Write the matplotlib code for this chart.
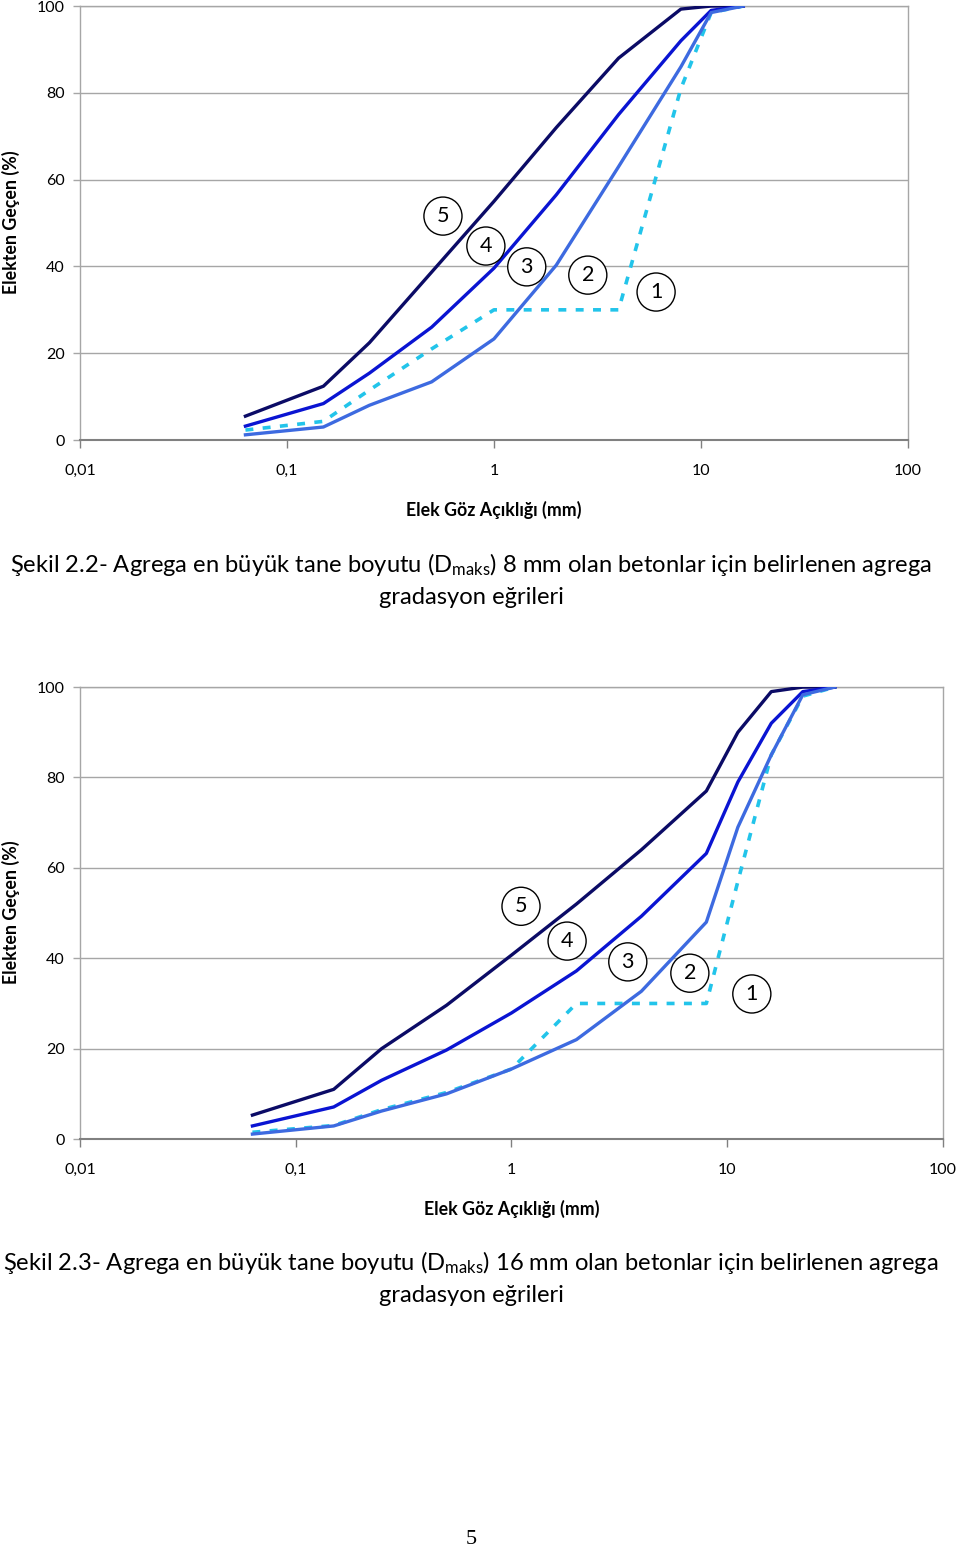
import matplotlib
matplotlib.use("Agg")
import matplotlib.pyplot as plt
from matplotlib.ticker import FixedLocator, NullLocator

plt.rcParams['font.family'] = ['Lato', 'DejaVu Sans']
plt.rcParams['mathtext.fontset'] = 'custom'
plt.rcParams['mathtext.rm'] = 'Lato'
plt.rcParams['mathtext.it'] = 'Lato'

# ---- Data: Dmax = 8 mm ----
sieves_8 = [0.063, 0.15, 0.25, 0.5, 1, 2, 4, 8, 11.2, 16]
c5_8 = [5.5, 12.4, 22.4, 38.7, 55, 72, 88, 99.3, 100, 100]
c4_8 = [3.2, 8.4, 15.4, 26, 39.6, 56.5, 75, 92, 99, 100]
c3_8 = [1.2, 3.0, 8.0, 13.4, 23.3, 40.3, 63, 86, 98.5, 100]
c2_8 = [2.3, 4.3, 11.5, 21, 30, 30, 30, 81, 98.5, 100]

# ---- Data: Dmax = 16 mm ----
sieves_16 = [0.063, 0.15, 0.25, 0.5, 1, 2, 4, 8, 11.2, 16, 22.4, 31.5]
c5_16 = [5.3, 11, 20, 29.6, 40.7, 52, 64, 77, 90, 99, 100, 100]
c4_16 = [2.9, 7.1, 13, 19.7, 27.9, 37.2, 49.3, 63.2, 79, 92, 99, 100]
c3_16 = [1.1, 2.9, 6.2, 10, 15.5, 22, 32.7, 48, 69, 85, 98.3, 100]
c2_16 = [1.5, 3.0, 6.5, 10.3, 15.5, 30, 30, 30, 57, 85, 98, 100]

labels_order = ["5", "4", "3", "2", "1"]
label_pos_8 = [(0.567, 51.6), (0.914, 44.7), (1.44, 39.9), (2.84, 38.0), (6.07, 34.1)]
label_pos_16 = [(1.107, 51.5), (1.81, 43.8), (3.46, 39.2), (6.71, 36.7), (13.0, 32.1)]

xticks = [0.01, 0.1, 1, 10, 100]
xticklabels = ["0,01", "0,1", "1", "10", "100"]
yticks = [0, 20, 40, 60, 80, 100]

col5 = "#0b0b66"
col4 = "#0a14d2"
col3 = "#3d6ae0"
col2 = "#22c4ea"

fig = plt.figure(figsize=(9.6, 15.51), dpi=100)

def make_ax(rect, sieves, c5, c4, c3, c2, lpos):
    ax = fig.add_axes(rect)
    ax.set_xscale('log')
    ax.set_xlim(0.01, 100)
    ax.set_ylim(0, 100)
    ax.plot(sieves, c5, color=col5, lw=2.4, zorder=4)
    ax.plot(sieves, c4, color=col4, lw=2.4, zorder=4)
    ax.plot(sieves, c2, color=col2, lw=2.6, ls=(0, (2.2, 2.6)), zorder=3)
    ax.plot(sieves, c3, color=col3, lw=2.4, zorder=4)
    ax.xaxis.set_major_locator(FixedLocator(xticks))
    ax.xaxis.set_minor_locator(NullLocator())
    ax.set_xticklabels(xticklabels)
    ax.set_yticks(yticks)
    ax.grid(axis='y', color='#a6a6a6', lw=1.0)
    ax.set_axisbelow(True)
    for s in ['left', 'right', 'top']:
        ax.spines[s].set_color('#a6a6a6')
        ax.spines[s].set_linewidth(1.0)
    ax.spines['bottom'].set_color('#808080')
    ax.spines['bottom'].set_linewidth(1.5)
    ax.tick_params(axis='x', direction='out', length=6, width=1, color='#808080',
                   labelsize=11.5, pad=11)
    ax.tick_params(axis='y', direction='out', length=5, width=1, color='#a6a6a6',
                   labelsize=11.5, pad=6)
    ax.set_xlabel("Elek Göz Açıklığı (mm)", fontsize=12.8, fontweight='bold', labelpad=17)
    for lab, (x, y) in zip(labels_order, lpos):
        ax.text(x, y, lab, fontsize=15.5, ha='center', va='center', zorder=6,
                bbox=dict(boxstyle='circle,pad=0.42', fc='white', ec='black', lw=1.0))
    return ax

ax1 = make_ax([0.0833, 0.7163, 0.8625, 0.2798], sieves_8, c5_8, c4_8, c3_8, c2_8, label_pos_8)
ax2 = make_ax([0.0833, 0.2656, 0.8990, 0.2914], sieves_16, c5_16, c4_16, c3_16, c2_16, label_pos_16)

fig.text(0.0115, 1 - 222 / 1551, "Elekten Geçen (%)", rotation=90, ha='center', va='center',
         fontsize=12.8, fontweight='bold')
fig.text(0.0115, 1 - 912 / 1551, "Elekten Geçen (%)", rotation=90, ha='center', va='center',
         fontsize=12.8, fontweight='bold')

fig.text(0.4906, 1 - 565 / 1551,
         "Şekil 2.2- Agrega en büyük tane boyutu (D$_{\\mathrm{maks}}$) 8 mm olan betonlar için belirlenen agrega",
         ha='center', va='center', fontsize=17.1)
fig.text(0.4906, 1 - 597 / 1551, "gradasyon eğrileri", ha='center', va='center', fontsize=17.1)

fig.text(0.4906, 1 - 1263 / 1551,
         "Şekil 2.3- Agrega en büyük tane boyutu (D$_{\\mathrm{maks}}$) 16 mm olan betonlar için belirlenen agrega",
         ha='center', va='center', fontsize=17.1)
fig.text(0.4906, 1 - 1295 / 1551, "gradasyon eğrileri", ha='center', va='center', fontsize=17.1)

fig.text(0.4906, 1 - 1540 / 1551, "5", ha='center', va='center', fontsize=16,
         family=['Liberation Serif', 'DejaVu Serif'])

fig.savefig("out.png", dpi=100)
